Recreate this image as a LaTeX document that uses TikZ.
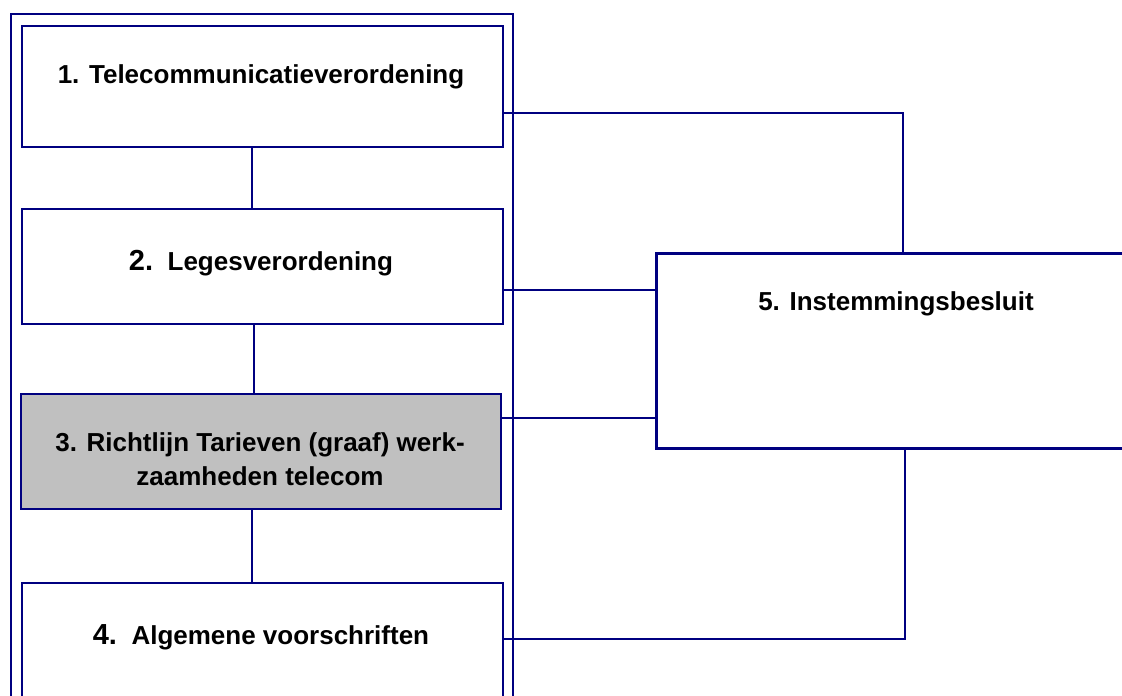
\documentclass[tikz,border=0pt]{standalone}
\usepackage{fontspec}
\setmainfont{Liberation Sans}
\definecolor{navy}{RGB}{0,0,128}
\definecolor{boxgray}{RGB}{192,192,192}
\tikzset{
  box/.style={draw=navy, line width=2.4pt, rectangle, inner sep=0pt, anchor=north west},
  bigbox/.style={box, line width=3pt},
  frame/.style={draw=navy, line width=2pt},
  link/.style={draw=navy, line width=2pt},
  lbl/.style={anchor=base, inner sep=0pt, font=\fontsize{26}{34}\selectfont\bfseries, text=black, align=center},
}
\newcommand{\bignum}[1]{{\fontsize{29}{34}\selectfont #1}}
\begin{document}
\begin{tikzpicture}[x=1pt, y=-1pt]
\useasboundingbox (0,0) rectangle (1122,696);
\clip (0,0) rectangle (1122,696);
% outer frame
\node[box, frame, minimum width=502pt, minimum height=700pt] (outer) at (10,13) {};
% boxes
\node[box, minimum width=481pt, minimum height=121pt] (b1) at (21,25) {};
\node[box, minimum width=481pt, minimum height=115pt] (b2) at (21,208) {};
\node[box, fill=boxgray, minimum width=480pt, minimum height=115pt] (b3) at (20,393) {};
\node[box, minimum width=481pt, minimum height=130pt] (b4) at (21,582) {};
\node[bigbox, minimum width=480pt, minimum height=195pt] (b5) at (655,252) {};
% texts
\node[lbl] (t1) at (261,83) {1. Telecommunicatieverordening};
\node[lbl] (t2) at (261,270) {\bignum{2.}\ \ Legesverordening};
\node[lbl, anchor=center] (t3) at (260,459) {3. Richtlijn Tarieven (graaf) werk-\\zaamheden telecom};
\node[lbl] (t4) at (261,644) {\bignum{4.}\ \ Algemene voorschriften};
\node[lbl] (t5) at (896,310) {5. Instemmingsbesluit};
% coordinates for connectors
\coordinate (vx) at (252,0);
\coordinate (vy) at (254,0);
\coordinate (h1) at (0,113);
\coordinate (h2) at (0,290);
\coordinate (h3) at (0,418);
\coordinate (h4) at (0,639);
\coordinate (r1) at (903,0);
\coordinate (r4) at (905,0);
% vertical chain
\draw[link] (b1.south -| vx) -- (b2.north -| vx);
\draw[link] (b2.south -| vy) -- (b3.north -| vy);
\draw[link] (b3.south -| vx) -- (b4.north -| vx);
% to box 5
\draw[link] (b1.east |- h1) -- (r1 |- h1) -- (r1 |- b5.north);
\draw[link] (b2.east |- h2) -- (b5.west |- h2);
\draw[link] (b3.east |- h3) -- (b5.west |- h3);
\draw[link] (b4.east |- h4) -- (r4 |- h4) -- (r4 |- b5.south);
\end{tikzpicture}
\end{document}
